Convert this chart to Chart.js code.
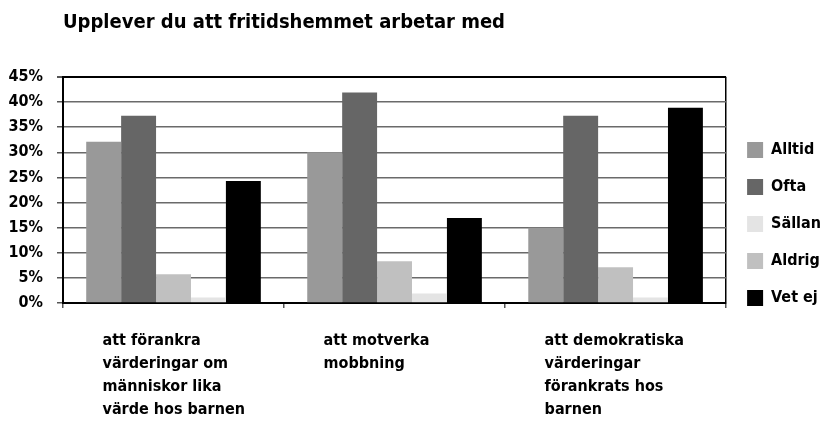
<!DOCTYPE html>
<html>
<head>
<meta charset="utf-8">
<script src="https://cdn.jsdelivr.net/npm/chart.js@4/dist/chart.umd.min.js"></script>
<style>
  html, body { margin: 0; padding: 0; background: #fff; }
  #wrap { width: 831px; height: 421px; position: relative; }
</style>
</head>
<body>
<div id="wrap"><canvas id="chart"></canvas></div>
<script>
// chart data
const title = "Upplever du att fritidshemmet arbetar med";
const categories = [
  ["att förankra", "värderingar om", "människor lika", "värde hos barnen"],
  ["att motverka", "mobbning"],
  ["att demokratiska", "värderingar", "förankrats hos", "barnen"]
];
const seriesNames = ["Alltid", "Ofta", "Sällan", "Aldrig", "Vet ej"];
const alltid = [32.1, 30.0, 15.0];
const ofta = [37.3, 41.9, 37.3];
const sallan = [5.7, 8.3, 7.1];
const aldrig = [1.1, 1.9, 1.1];
const vetEj = [24.3, 16.9, 38.9];
const yTicks = [0, 5, 10, 15, 20, 25, 30, 35, 40, 45];

// bar fills, and the (swapped) swatches the legend shows
const barColors = ["#999999", "#666666", "#c0c0c0", "#e4e4e4", "#000000"];
const legendColors = ["#999999", "#666666", "#e4e4e4", "#c0c0c0", "#000000"];

const values = [alltid, ofta, sallan, aldrig, vetEj];

Chart.defaults.font.family = "'DejaVu Sans Condensed', 'DejaVu Sans', sans-serif";
Chart.defaults.font.weight = "bold";
Chart.defaults.color = "#000";

const defaultLabels = Chart.defaults.plugins.legend.labels.generateLabels;

new Chart(document.getElementById("chart"), {
  type: "bar",
  data: {
    labels: categories,
    datasets: seriesNames.map((name, i) => ({
      label: name,
      data: values[i],
      backgroundColor: barColors[i],
      borderWidth: 0,
      barPercentage: 1,
      categoryPercentage: 0.79
    }))
  },
  options: {
    responsive: true,
    maintainAspectRatio: false,
    animation: false,
    layout: { padding: { left: 8, right: 0, top: 0, bottom: 0 } },
    scales: {
      x: {
        afterFit: axis => { axis.height = 118; },
        grid: {
          offset: true,
          // only the right edge of the plot box is drawn
          color: ctx => ctx.type === "scale" ? "#000" : "rgba(0,0,0,0)",
          lineWidth: 1.5,
          tickColor: "#555",
          tickLength: 5
        },
        border: { color: "#000", width: 2 },
        ticks: {
          align: "start",
          labelOffset: -71,
          padding: 21,
          maxRotation: 0,
          autoSkip: false,
          color: "#000",
          font: { size: 16, weight: "bold", lineHeight: 1.45 }
        }
      },
      y: {
        min: 0,
        max: 45,
        afterBuildTicks: axis => { axis.ticks = yTicks.map(v => ({ value: v })); },
        afterFit: axis => { axis.width = 55; },
        grid: {
          color: ctx => ctx.tick && ctx.tick.value === 45 ? "#000" : "#6a6a6a",
          lineWidth: ctx => ctx.tick && ctx.tick.value === 45 ? 2 : 1.5,
          tickColor: "#555",
          tickLength: 6
        },
        border: { color: "#000", width: 2 },
        ticks: {
          padding: 14,
          color: "#000",
          font: { size: 16, weight: "bold" },
          callback: v => v + "%"
        }
      }
    },
    plugins: {
      title: {
        display: true,
        text: title,
        align: "start",
        fullSize: false,
        color: "#000",
        font: { size: 20, weight: "bold", lineHeight: 1.2 },
        padding: { top: 11, bottom: 42 }
      },
      legend: {
        position: "right",
        align: "center",
        title: { display: true, text: "", font: { size: 10, lineHeight: 1 }, padding: { top: 0, bottom: 17 } },
        labels: {
          boxWidth: 16,
          boxHeight: 16,
          padding: 21,
          color: "#000",
          font: { size: 16, weight: "bold" },
          generateLabels: chart => defaultLabels(chart).map((item, i) => ({
            ...item,
            fillStyle: legendColors[i],
            strokeStyle: legendColors[i],
            lineWidth: 0
          }))
        }
      },
      tooltip: { enabled: false }
    }
  }
});
</script>
</body>
</html>
